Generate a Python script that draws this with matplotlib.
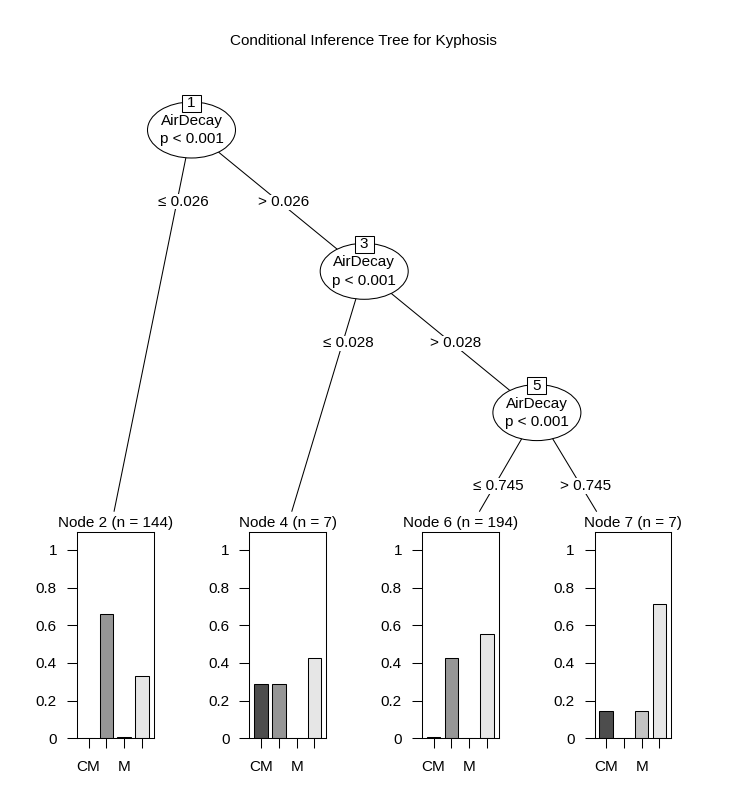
import matplotlib
matplotlib.use("Agg")
import matplotlib.pyplot as plt
from matplotlib.patches import Ellipse, Rectangle

plt.rcParams['font.family'] = ['Liberation Sans', 'DejaVu Sans']
FS = 11

# ---------------- data ----------------
title = "Conditional Inference Tree for Kyphosis"
inner_ids = [1, 3, 5]
inner_var = ["AirDecay", "AirDecay", "AirDecay"]
inner_p = ["p < 0.001", "p < 0.001", "p < 0.001"]
leaf_ids = [2, 4, 6, 7]
leaf_n = [144, 7, 194, 7]
tick_labels = ["CM", "", "M", ""]
leaf_props = [
    [0.0, 0.658, 0.007, 0.331],
    [0.286, 0.286, 0.0, 0.429],
    [0.005, 0.428, 0.0, 0.555],
    [0.143, 0.0, 0.143, 0.714],
]
bar_colors = ["#4D4D4D", "#969696", "#C3C3C3", "#E6E6E6"]
# edges: (parent inner index, child kind, child index, label)
edges = [
    (0, "leaf", 0, "\u2264 0.026"),
    (0, "inner", 1, "> 0.026"),
    (1, "leaf", 1, "\u2264 0.028"),
    (1, "inner", 2, "> 0.028"),
    (2, "leaf", 2, "\u2264 0.745"),
    (2, "leaf", 3, "> 0.745"),
]

# ---------------- layout (pixels) ----------------
W, H, DPI = 729, 787, 100
node_x0, node_dx = 191.5, 172.7
node_y0, node_dy = 130.0, 141.3
ell_w, ell_h = 88, 56
leaf_left0, leaf_dx = 77.0, 172.5
leaf_w = 76.5
leaf_top, leaf_bot = 531.7, 738.3
leaf_line_end_x = [114.0, 291.7, 479.3, 596.7]
leaf_line_end_y = 511.7
edge_label_xy = [(183.3, 201.7), (283.3, 202.3), (348.3, 343.3),
                 (456.0, 343.3), (498.3, 486.0), (585.7, 486.0)]

fig = plt.figure(figsize=(W / DPI, H / DPI), dpi=DPI)
tree = fig.add_axes([0, 0, 1, 1])
tree.set_xlim(0, W)
tree.set_ylim(H, 0)
tree.axis("off")

inner_xy = [(node_x0 + k * node_dx, node_y0 + k * node_dy) for k in range(len(inner_ids))]

tree.text(363.8, 40.7, title, ha="center", va="center", fontsize=FS)

for (pi, kind, ci, lab), (lx, ly) in zip(edges, edge_label_xy):
    px, py = inner_xy[pi]
    if kind == "inner":
        cx, cy = inner_xy[ci]
    else:
        cx, cy = leaf_line_end_x[ci], leaf_line_end_y
    tree.plot([px, cx], [py, cy], color="black", lw=0.75, zorder=1,
              solid_capstyle="butt")
    tree.text(lx, ly, lab, ha="center", va="center", fontsize=FS, zorder=3,
              bbox=dict(facecolor="white", edgecolor="none", pad=0.5))

for k, (x, y) in enumerate(inner_xy):
    tree.add_patch(Ellipse((x, y), ell_w, ell_h, facecolor="white",
                           edgecolor="black", lw=0.75, zorder=4))
    tree.text(x, y - 9, inner_var[k], ha="center", va="center", fontsize=FS, zorder=5)
    tree.text(x, y + 9.5, inner_p[k], ha="center", va="center", fontsize=FS, zorder=5)
    tree.add_patch(Rectangle((x - 9.5, y - 35.5), 19, 17, facecolor="white",
                             edgecolor="black", lw=0.75, zorder=6))
    tree.text(x, y - 27, str(inner_ids[k]), ha="center", va="center",
              fontsize=FS, zorder=7)

for i in range(len(leaf_ids)):
    left = leaf_left0 + i * leaf_dx
    ax = fig.add_axes([left / W, (H - leaf_bot) / H, leaf_w / W,
                       (leaf_bot - leaf_top) / H])
    xs = list(range(len(tick_labels)))
    ax.bar(xs, leaf_props[i], width=0.75, color=bar_colors,
           edgecolor="black", linewidth=0.75)
    ax.set_xlim(-0.65, 3.65)
    ax.set_ylim(0, 1.097)
    ax.set_yticks([0, 0.2, 0.4, 0.6, 0.8, 1.0])
    ax.set_yticklabels(["0", "0.2", "0.4", "0.6", "0.8", "1"], fontsize=FS)
    ax.set_xticks(xs)
    ax.set_xticklabels(tick_labels, fontsize=FS)
    ax.tick_params(axis="y", length=7.2, width=0.75, pad=7.2)
    ax.tick_params(axis="x", length=7.2, width=0.75, pad=8.5)
    for s in ax.spines.values():
        s.set_linewidth(0.75)
    tree.text(left + leaf_w / 2, 523, f"Node {leaf_ids[i]} (n = {leaf_n[i]})",
              ha="center", va="center", fontsize=FS)

fig.savefig("out.png", dpi=DPI)
